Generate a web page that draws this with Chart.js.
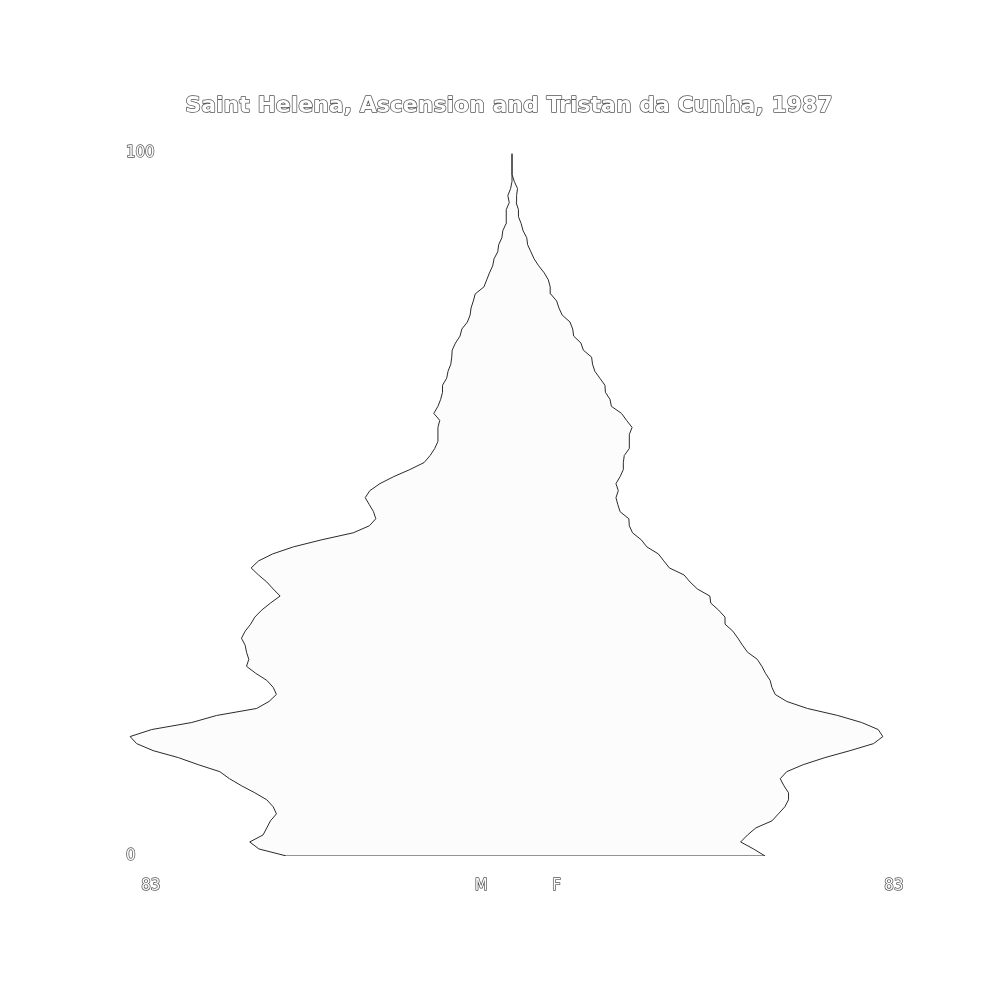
<!DOCTYPE html>
<html>
<head>
<meta charset="utf-8">
<script src="https://cdn.jsdelivr.net/npm/chart.js@4.4.1/dist/chart.umd.min.js"></script>
<style>
  html, body { margin: 0; padding: 0; background: #fff; }
  #wrap { width: 1000px; height: 1000px; }
</style>
</head>
<body>
<div id="wrap"><canvas id="myChart"></canvas></div>
<script>
// single years of age, 0 .. 100
const ages = Array.from({length: 101}, (_, i) => i);

// persons per year of age
const males = [
  49.0, 55.0, 57.0, 54.1, 53.3, 52.5, 51.2, 51.9, 53.3, 55.9,
  58.8, 61.4, 63.5, 68.2, 72.5, 78.0, 81.6, 83.0, 78.3, 69.6,
  64.2, 55.5, 52.8, 51.2, 51.9, 53.3, 55.7, 57.7, 57.2, 57.7,
  58.0, 58.8, 58.0, 56.8, 55.9, 54.4, 52.5, 50.4, 51.9, 53.3,
  55.1, 56.7, 55.1, 52.0, 47.5, 41.4, 34.5, 31.0, 29.6, 30.1,
  31.0, 31.9, 30.9, 28.7, 25.7, 22.2, 19.1, 17.8, 16.8, 16.1,
  16.1, 16.1, 15.7, 17.0, 16.1, 15.5, 15.1, 15.1, 14.2, 13.9,
  13.3, 13.1, 13.0, 12.3, 11.3, 10.9, 9.7, 9.1, 8.9, 8.4,
  8.0, 6.1, 5.5, 4.9, 4.2, 3.9, 3.1, 2.9, 2.2, 2.0,
  1.3, 1.3, 1.2, 0.6, 0.9, 0.3, 0, 0, 0, 0,
  0
];
const females = [
  55.0, 52.5, 49.7, 51.2, 53.0, 56.5, 57.9, 59.3, 60.1, 60.1,
  59.1, 58.3, 59.7, 63.3, 68.0, 73.5, 78.6, 80.6, 79.6, 76.0,
  70.8, 64.2, 59.7, 57.2, 56.5, 56.1, 55.1, 54.3, 53.3, 51.2,
  50.1, 49.1, 48.0, 46.3, 46.3, 44.9, 43.2, 43.0, 40.3, 38.7,
  37.4, 34.2, 33.0, 31.8, 29.3, 28.1, 26.2, 25.5, 25.4, 23.5,
  23.0, 22.6, 23.1, 22.6, 23.5, 24.2, 24.2, 24.4, 25.5, 25.5,
  25.5, 26.1, 24.9, 23.8, 21.6, 21.3, 20.3, 20.2, 19.1, 18.0,
  17.5, 17.3, 15.5, 15.0, 13.4, 13.2, 12.6, 10.9, 10.2, 9.7,
  8.4, 8.3, 7.9, 7.0, 5.8, 4.8, 4.1, 3.4, 3.2, 2.4,
  2.0, 1.4, 1.4, 0.9, 1.0, 1.2, 0.5, 0, 0, 0,
  0
];

const titleText = 'Saint Helena, Ascension and Tristan da Cunha, 1987';
const xTickValues = [-78.5, -6.7, 9.7, 83];
const xTickLabels = ['83', 'M', 'F', '83'];
const yTickValues = [0, 100];

// every text is drawn white with a thin dark outline
const outlineText = {
  id: 'outlineText',
  beforeDraw(chart) {
    const ctx = chart.ctx;
    if (ctx._outlined) return;
    const fill = ctx.fillText.bind(ctx);
    ctx.fillText = function (...args) {
      ctx.save();
      ctx.strokeStyle = '#555555';
      ctx.lineWidth = 1.5;
      ctx.lineJoin = 'round';
      ctx.strokeText(...args);
      ctx.restore();
      fill(...args);
    };
    ctx._outlined = true;
  }
};

const lineColor = '#2a2a2a';
const areaColor = 'rgba(0,0,0,0.012)';

const config = {
  type: 'line',
  data: {
    datasets: [
      {
        label: 'M',
        data: ages.map(a => ({x: -males[a], y: a})),
        borderColor: lineColor,
        borderWidth: 1,
        backgroundColor: areaColor,
        fill: 'origin',
        pointRadius: 0,
        tension: 0
      },
      {
        label: 'F',
        data: ages.map(a => ({x: females[a], y: a})),
        borderColor: lineColor,
        borderWidth: 1,
        backgroundColor: areaColor,
        fill: 'origin',
        pointRadius: 0,
        tension: 0
      },
      {
        label: 'base',
        data: [{x: -males[0], y: 0}, {x: females[0], y: 0}],
        borderColor: lineColor,
        borderWidth: 1,
        fill: false,
        pointRadius: 0
      }
    ]
  },
  options: {
    indexAxis: 'y',
    responsive: true,
    maintainAspectRatio: false,
    animation: false,
    layout: {
      padding: {left: 114, right: 96, top: 0, bottom: 107}
    },
    plugins: {
      legend: {display: false},
      tooltip: {enabled: false},
      title: {
        display: true,
        text: titleText,
        color: '#ffffff',
        font: {family: 'DejaVu Sans', size: 22, weight: 'bold', lineHeight: 1.2},
        padding: {top: 93, bottom: 34}
      }
    },
    scales: {
      x: {
        type: 'linear',
        min: -85.2,
        max: 85.2,
        grid: {display: false, drawTicks: false},
        border: {display: false},
        afterBuildTicks(scale) {
          scale.ticks = xTickValues.map(v => ({value: v}));
        },
        afterFit(scale) {
          scale.height = 37;
        },
        ticks: {
          autoSkip: false,
          maxRotation: 0,
          padding: 21,
          color: '#ffffff',
          font: {family: 'DejaVu Sans', size: 15},
          callback: (value, index) => xTickLabels[index]
        }
      },
      y: {
        type: 'linear',
        min: 0,
        max: 100,
        grid: {display: false, drawTicks: false},
        border: {display: false},
        afterBuildTicks(scale) {
          scale.ticks = yTickValues.map(v => ({value: v}));
        },
        afterFit(scale) {
          scale.width = 6;
        },
        ticks: {
          mirror: true,
          padding: 6,
          color: '#ffffff',
          font: {family: 'DejaVu Sans', size: 15},
          callback: value => String(value)
        }
      }
    }
  },
  plugins: [outlineText]
};

const ctx = document.getElementById('myChart').getContext('2d');
const myChart = new Chart(ctx, config);
</script>
</body>
</html>
